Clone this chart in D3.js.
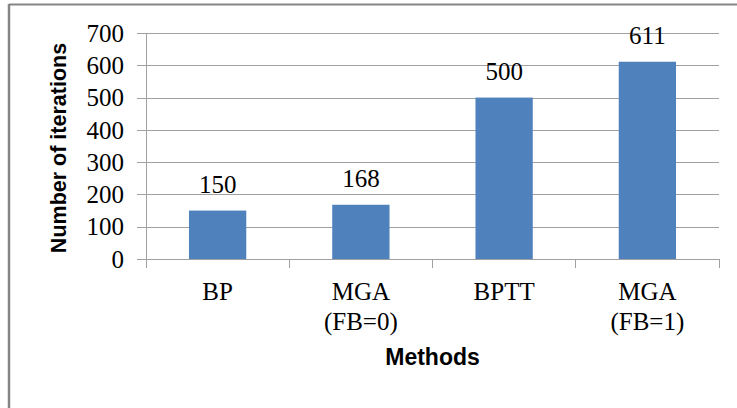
<!DOCTYPE html>
<html>
<head>
<meta charset="utf-8">
<script src="https://cdn.jsdelivr.net/npm/d3@7"></script>
<style>
  html, body { margin: 0; padding: 0; background: #fff; }
  svg { display: block; }
  .serif { font-family: "Liberation Serif", "Times New Roman", serif; }
  .sans { font-family: "Liberation Sans", Arial, sans-serif; }
</style>
</head>
<body>
<svg id="chart" width="737" height="408"></svg>
<script>
const categories = [["BP"], ["MGA", "(FB=0)"], ["BPTT"], ["MGA", "(FB=1)"]];
const categoryKeys = ["BP", "MGA (FB=0)", "BPTT", "MGA (FB=1)"];
const values = [150, 168, 500, 611];
const yTicks = [0, 100, 200, 300, 400, 500, 600, 700];
const yTitle = "Number of iterations";
const xTitle = "Methods";

const svg = d3.select("#chart");
const W = 737, H = 408;
const plotLeft = 146, plotRight = 719, plotTop = 33, plotBottom = 259;

// frame (top and left edges visible)
svg.append("line").attr("x1", 9).attr("x2", W).attr("y1", 4.5).attr("y2", 4.5)
  .attr("stroke", "#868686").attr("stroke-width", 2);
svg.append("line").attr("x1", 9).attr("x2", 9).attr("y1", 4).attr("y2", H)
  .attr("stroke", "#868686").attr("stroke-width", 2.5);

const x = d3.scaleBand().domain(categoryKeys).range([plotLeft, plotRight]).padding(0);
const y = d3.scaleLinear().domain([0, 700]).range([plotBottom, plotTop]);

const grid = "#a0a0a0";
// gridlines + y ticks
const yAxis = d3.axisLeft(y).tickValues(yTicks).tickSize(-(plotRight - plotLeft)).tickPadding(0).tickFormat("");
const gy = svg.append("g").attr("transform", `translate(${plotLeft},0)`).call(yAxis);
gy.select(".domain").remove();
gy.selectAll(".tick line").attr("stroke", grid).attr("x1", -9).attr("shape-rendering", "crispEdges");

// y tick labels
svg.append("g").selectAll("text").data(yTicks).join("text")
  .attr("class", "serif")
  .attr("x", 124).attr("y", d => y(d)).attr("dy", "0.35em")
  .attr("text-anchor", "end")
  .attr("font-size", 25).attr("fill", "#000")
  .text(d => d);

// bars
const barW = x.bandwidth() * 0.4;
svg.append("g").selectAll("rect").data(values).join("rect")
  .attr("x", (d, i) => x(categoryKeys[i]) + (x.bandwidth() - barW) / 2)
  .attr("y", d => y(d))
  .attr("width", barW)
  .attr("height", d => y(0) - y(d))
  .attr("fill", "#4F81BD");

// axes lines
svg.append("line").attr("x1", plotLeft).attr("x2", plotLeft).attr("y1", plotTop).attr("y2", plotBottom + 9)
  .attr("stroke", grid).attr("shape-rendering", "crispEdges");
svg.append("line").attr("x1", plotLeft).attr("x2", plotRight).attr("y1", plotBottom).attr("y2", plotBottom)
  .attr("stroke", grid).attr("shape-rendering", "crispEdges");
const boundaries = categoryKeys.map(k => x(k)).concat([plotRight]);
svg.append("g").selectAll("line").data(boundaries).join("line")
  .attr("x1", d => d).attr("x2", d => d).attr("y1", plotBottom).attr("y2", plotBottom + 9)
  .attr("stroke", grid).attr("shape-rendering", "crispEdges");

// data labels
svg.append("g").selectAll("text").data(values).join("text")
  .attr("class", "serif")
  .attr("x", (d, i) => x(categoryKeys[i]) + x.bandwidth() / 2)
  .attr("y", d => y(d) - 18)
  .attr("text-anchor", "middle")
  .attr("font-size", 25).attr("fill", "#000")
  .text(d => d);

// category labels
const cl = svg.append("g").selectAll("text").data(categories).join("text")
  .attr("class", "serif")
  .attr("x", (d, i) => x(categoryKeys[i]) + x.bandwidth() / 2)
  .attr("y", 300)
  .attr("text-anchor", "middle")
  .attr("font-size", 25).attr("fill", "#000");
cl.selectAll("tspan").data(d => d).join("tspan")
  .attr("x", function() { return d3.select(this.parentNode).attr("x"); })
  .attr("dy", (d, i) => i === 0 ? 0 : 30)
  .text(d => d);

// axis titles
svg.append("text")
  .attr("class", "sans")
  .attr("x", (plotLeft + plotRight) / 2).attr("y", 365)
  .attr("text-anchor", "middle")
  .attr("font-weight", "bold").attr("font-size", 23).attr("fill", "#000")
  .text(xTitle);

svg.append("text")
  .attr("class", "sans")
  .attr("transform", "translate(66,148) rotate(-90)")
  .attr("text-anchor", "middle")
  .attr("font-weight", "bold").attr("font-size", 21.5).attr("fill", "#000")
  .text(yTitle);
</script>
</body>
</html>
